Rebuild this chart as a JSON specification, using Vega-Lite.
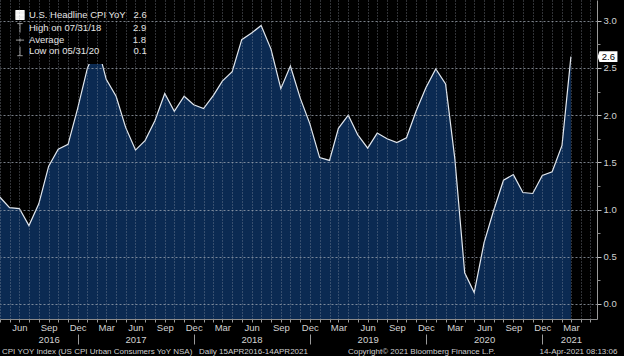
{
  "$schema": "https://vega.github.io/schema/vega-lite/v6.json",
  "width": 597,
  "height": 319,
  "autosize": "none",
  "padding": {"left": 0, "top": 0, "right": 27, "bottom": 37},
  "background": "#000000",
  "config": {
    "view": {"stroke": null},
    "font": "Liberation Sans",
    "legend": {
      "orient": "top-left",
      "offset": 4,
      "padding": 6,
      "fillColor": "#000000",
      "symbolSize": 81,
      "symbolOffset": 5,
      "labelOffset": 4,
      "rowPadding": -0.9,
      "labelFontSize": 9.5,
      "labelColor": "#e6e6e6",
      "symbolOpacity": 1,
      "symbolStrokeWidth": 1
    }
  },
  "title": {
    "text": "CPI YOY Index (US CPI Urban Consumers YoY NSA)\u00a0\u00a0\u00a0Daily 15APR2016-14APR2021\u00a0\u00a0\u00a0\u00a0\u00a0\u00a0\u00a0\u00a0\u00a0\u00a0\u00a0\u00a0\u00a0\u00a0\u00a0\u00a0\u00a0\u00a0Copyright\u00a9 2021 Bloomberg Finance L.P.\u00a0\u00a0\u00a0\u00a0\u00a0\u00a0\u00a0\u00a0\u00a0\u00a0\u00a0\u00a0\u00a0\u00a0\u00a0\u00a0\u00a0\u00a0\u00a0\u00a014-Apr-2021 08:13:06",
    "orient": "bottom",
    "anchor": "start",
    "frame": "group",
    "fontSize": 8,
    "fontWeight": "normal",
    "color": "#cfcfcf",
    "offset": 3,
    "dx": 2
  },
  "datasets": {
    "cpi": [
      {"date": "2016-04-01", "value": 1.13},
      {"date": "2016-05-01", "value": 1.02},
      {"date": "2016-06-01", "value": 1.01},
      {"date": "2016-07-01", "value": 0.83},
      {"date": "2016-08-01", "value": 1.06},
      {"date": "2016-09-01", "value": 1.46},
      {"date": "2016-10-01", "value": 1.64},
      {"date": "2016-11-01", "value": 1.69},
      {"date": "2016-12-01", "value": 2.07},
      {"date": "2017-01-01", "value": 2.50},
      {"date": "2017-02-01", "value": 2.74},
      {"date": "2017-03-01", "value": 2.38},
      {"date": "2017-04-01", "value": 2.20},
      {"date": "2017-05-01", "value": 1.87},
      {"date": "2017-06-01", "value": 1.63},
      {"date": "2017-07-01", "value": 1.73},
      {"date": "2017-08-01", "value": 1.94},
      {"date": "2017-09-01", "value": 2.23},
      {"date": "2017-10-01", "value": 2.04},
      {"date": "2017-11-01", "value": 2.20},
      {"date": "2017-12-01", "value": 2.11},
      {"date": "2018-01-01", "value": 2.07},
      {"date": "2018-02-01", "value": 2.21},
      {"date": "2018-03-01", "value": 2.36},
      {"date": "2018-04-01", "value": 2.46},
      {"date": "2018-05-01", "value": 2.80},
      {"date": "2018-06-01", "value": 2.87},
      {"date": "2018-07-01", "value": 2.95},
      {"date": "2018-08-01", "value": 2.70},
      {"date": "2018-09-01", "value": 2.28},
      {"date": "2018-10-01", "value": 2.52},
      {"date": "2018-11-01", "value": 2.18},
      {"date": "2018-12-01", "value": 1.91},
      {"date": "2019-01-01", "value": 1.55},
      {"date": "2019-02-01", "value": 1.52},
      {"date": "2019-03-01", "value": 1.86},
      {"date": "2019-04-01", "value": 2.00},
      {"date": "2019-05-01", "value": 1.79},
      {"date": "2019-06-01", "value": 1.65},
      {"date": "2019-07-01", "value": 1.81},
      {"date": "2019-08-01", "value": 1.75},
      {"date": "2019-09-01", "value": 1.71},
      {"date": "2019-10-01", "value": 1.76},
      {"date": "2019-11-01", "value": 2.05},
      {"date": "2019-12-01", "value": 2.29},
      {"date": "2020-01-01", "value": 2.49},
      {"date": "2020-02-01", "value": 2.33},
      {"date": "2020-03-01", "value": 1.54},
      {"date": "2020-04-01", "value": 0.33},
      {"date": "2020-05-01", "value": 0.12},
      {"date": "2020-06-01", "value": 0.65},
      {"date": "2020-07-01", "value": 0.99},
      {"date": "2020-08-01", "value": 1.31},
      {"date": "2020-09-01", "value": 1.37},
      {"date": "2020-10-01", "value": 1.18},
      {"date": "2020-11-01", "value": 1.17},
      {"date": "2020-12-01", "value": 1.36},
      {"date": "2021-01-01", "value": 1.40},
      {"date": "2021-02-01", "value": 1.68},
      {"date": "2021-03-01", "value": 2.62}
    ],
    "stats": [
      {"series": "U.S. Headline CPI YoY", "date": "2021-03-01", "value": 2.62},
      {"series": "High on 07/31/18", "date": "2018-07-01", "value": 2.95},
      {"series": "Average", "date": "2018-10-01", "value": 1.8},
      {"series": "Low on 05/31/20", "date": "2020-05-01", "value": 0.12}
    ]
  },
  "encoding": {
    "x": {
      "field": "date",
      "type": "temporal",
      "scale": {
        "type": "utc",
        "domain": [
          {"year": 2016, "month": 4, "date": 1, "utc": true},
          {"year": 2021, "month": 5, "date": 22, "utc": true}
        ]
      },
      "axis": {
        "orient": "bottom",
        "title": null,
        "domain": true,
        "domainColor": "#8a8a8a",
        "tickCount": {"interval": "month", "step": 1},
        "labelExpr": "indexof([2,5,8,11], utcmonth(datum.value)) < 0 ? '' : (((utcmonth(datum.value) == 5 && utcyear(datum.value) >= 2017 && utcyear(datum.value) <= 2020) || (utcmonth(datum.value) == 8 && utcyear(datum.value) == 2016) || (utcmonth(datum.value) == 2 && utcyear(datum.value) == 2021)) ? [utcFormat(datum.value, '%b'), utcFormat(datum.value, '%Y')] : utcFormat(datum.value, '%b'))",
        "labelOverlap": false,
        "labelFlush": false,
        "labelBound": false,
        "labelFontSize": 9.5,
        "labelColor": "#d2d2d2",
        "labelPadding": {"condition": {"test": "utcmonth(datum.value) == 11", "value": -22}, "value": 0},
        "labelLineHeight": 12.5,
        "labelBaseline": "top",
        "tickSize": {"condition": {"test": "utcmonth(datum.value) == 11", "value": 25}, "value": 3},
        "tickDash": {"condition": {"test": "utcmonth(datum.value) == 11", "value": [3, 12, 10]}, "value": []},
        "tickColor": "#9a9a9a",
        "grid": true,
        "gridColor": "#a0a8b4",
        "gridOpacity": 0.6,
        "gridDash": [1, 2],
        "zindex": 1
      }
    }
  },
  "layer": [
    {
      "data": {"name": "cpi"},
      "mark": {"type": "area", "color": "#0b2a52", "opacity": 1},
      "encoding": {
        "y": {
          "field": "value",
          "type": "quantitative",
          "scale": {"domain": [-0.16, 3.22], "nice": false, "zero": false},
          "axis": {
            "orient": "right",
            "title": null,
            "values": [0, 0.5, 1, 1.5, 2, 2.5, 3],
            "format": ".1f",
            "labelFontSize": 9.5,
            "labelColor": "#d2d2d2",
            "tickSize": 4,
            "tickColor": "#c0c0c0",
            "labelPadding": 2,
            "domain": true,
            "domainColor": "#9a9a9a",
            "grid": true,
            "gridColor": "#a0a8b4",
            "gridOpacity": 0.75,
            "gridDash": [2, 2],
            "zindex": 1
          }
        },
        "y2": {"datum": -0.16}
      }
    },
    {
      "data": {"name": "cpi"},
      "mark": {"type": "line", "color": "#e2e8ef", "strokeWidth": 1.2},
      "encoding": {
        "y": {
          "field": "value",
          "type": "quantitative",
          "axis": {
            "orient": "right",
            "title": null,
            "values": [0.25, 0.75, 1.25, 1.75, 2.25, 2.75],
            "labels": false,
            "domain": false,
            "grid": false,
            "tickSize": 3,
            "tickColor": "#8a8a8a",
            "zindex": 1
          }
        }
      }
    },
    {
      "data": {"name": "stats"},
      "mark": {"type": "point", "filled": false, "strokeWidth": 1, "opacity": 0},
      "encoding": {
        "y": {"field": "value", "type": "quantitative", "axis": null},
        "color": {
          "field": "series",
          "type": "nominal",
          "scale": {
            "domain": ["U.S. Headline CPI YoY", "High on 07/31/18", "Average", "Low on 05/31/20"],
            "range": ["#ffffff", "#9a9a9a", "#9a9a9a", "#9a9a9a"]
          },
          "legend": {
            "title": null,
            "labelExpr": "datum.label + pad('', datum.label == 'U.S. Headline CPI YoY' ? 3 : datum.label == 'High on 07/31/18' ? 12 : datum.label == 'Average' ? 26 : 13, '\u00a0') + (datum.label == 'U.S. Headline CPI YoY' ? '2.6' : datum.label == 'High on 07/31/18' ? '2.9' : datum.label == 'Average' ? '1.8' : '0.1')"
          }
        },
        "shape": {
          "field": "series",
          "type": "nominal",
          "scale": {
            "domain": ["U.S. Headline CPI YoY", "High on 07/31/18", "Average", "Low on 05/31/20"],
            "range": [
              "M-1,-1H1M-1,-0.875H1M-1,-0.75H1M-1,-0.625H1M-1,-0.5H1M-1,-0.375H1M-1,-0.25H1M-1,-0.125H1M-1,0H1M-1,0.125H1M-1,0.25H1M-1,0.375H1M-1,0.5H1M-1,0.625H1M-1,0.75H1M-1,0.875H1M-1,1H1",
              "M-0.6,-1H0.6M0,-1V1",
              "M-0.9,0H0.9M0,-0.35V0.35",
              "M0,-1V1M-0.6,1H0.6"
            ]
          },
          "legend": {
            "title": null,
            "labelExpr": "datum.label + pad('', datum.label == 'U.S. Headline CPI YoY' ? 3 : datum.label == 'High on 07/31/18' ? 12 : datum.label == 'Average' ? 26 : 13, '\u00a0') + (datum.label == 'U.S. Headline CPI YoY' ? '2.6' : datum.label == 'High on 07/31/18' ? '2.9' : datum.label == 'Average' ? '1.8' : '0.1')"
          }
        }
      }
    },
    {
      "data": {"name": "stats"},
      "transform": [{"filter": "datum.series == 'U.S. Headline CPI YoY'"}],
      "mark": {"type": "point", "shape": "M-1.2,0L-1,-0.6H1V0.6H-1Z", "size": 324, "filled": true, "color": "#ffffff", "opacity": 1, "xOffset": 37.5},
      "encoding": {
        "y": {"field": "value", "type": "quantitative", "axis": null}
      }
    },
    {
      "data": {"name": "stats"},
      "transform": [{"filter": "datum.series == 'U.S. Headline CPI YoY'"}],
      "mark": {"type": "text", "color": "#000000", "fontSize": 9.5, "align": "center", "baseline": "middle", "xOffset": 37.5},
      "encoding": {
        "y": {"field": "value", "type": "quantitative", "axis": null},
        "text": {"field": "value", "type": "quantitative", "format": ".1f"}
      }
    }
  ],
  "resolve": {"axis": {"y": "independent"}}
}
